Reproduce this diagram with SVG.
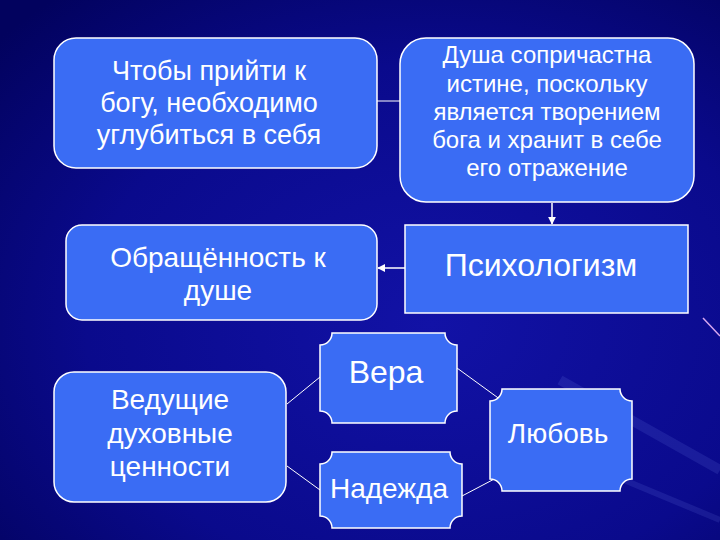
<svg xmlns="http://www.w3.org/2000/svg" width="720" height="540" viewBox="0 0 720 540">
<defs>
<radialGradient id="bg" cx="0.6" cy="0.6" r="0.8">
<stop offset="0" stop-color="#1212a6"/>
<stop offset="0.6" stop-color="#0a0a8c"/>
<stop offset="1" stop-color="#02025e"/>
</radialGradient>
<marker id="ah" viewBox="0 0 10 10" refX="9" refY="5" markerWidth="8" markerHeight="8" markerUnits="userSpaceOnUse" orient="auto">
<path d="M0,0 L10,5 L0,10 z" fill="#ffffff"/>
</marker>
<style>
.box{fill:#3a6cf4;stroke:#ffffff;stroke-width:1.5}
.t{font-family:"Liberation Sans",Arial,sans-serif;fill:#ffffff;text-anchor:middle}
.c{stroke:#ffffff;stroke-width:1;fill:none}
.ca{stroke:#ffffff;stroke-width:1.5;fill:none;marker-end:url(#ah)}
</style>
</defs>
<rect width="720" height="540" fill="url(#bg)"/>
<g opacity="0.12" stroke="#8aa0ff" fill="none">
<path d="M560,380 L720,470" stroke-width="10"/>
<path d="M600,470 L720,520" stroke-width="6"/>
</g>
<path d="M703,318 L720,336" stroke="#d8a8f0" stroke-width="1.5"/>

<g id="connectors">
<line class="c" x1="377" y1="101" x2="400" y2="101"/>
<line class="ca" x1="552" y1="203" x2="552" y2="224"/>
<line class="ca" x1="405" y1="268" x2="378" y2="268"/>
<line class="c" x1="287" y1="404" x2="320" y2="377"/>
<line class="c" x1="287" y1="466" x2="320" y2="490"/>
<line class="c" x1="457" y1="368" x2="501" y2="400"/>
<line class="c" x1="462" y1="496" x2="500" y2="476"/>
</g>

<g id="n1">
<rect class="box" x="54" y="38" width="323" height="130" rx="22"/>
<text class="t" font-size="27" x="209" y="80">Чтобы прийти к</text>
<text class="t" font-size="27" x="209" y="112">богу, необходимо</text>
<text class="t" font-size="27" x="209" y="144">углубиться в себя</text>
</g>

<g id="n2">
<rect class="box" x="400" y="38" width="294" height="164" rx="26"/>
<text class="t" font-size="24" x="547" y="63">Душа сопричастна</text>
<text class="t" font-size="24" x="547" y="92">истине, поскольку</text>
<text class="t" font-size="24" x="547" y="120">является творением</text>
<text class="t" font-size="24" x="547" y="148">бога и хранит в себе</text>
<text class="t" font-size="24" x="547" y="176">его отражение</text>
</g>

<g id="n3">
<rect class="box" x="66" y="225" width="311" height="95" rx="16"/>
<text class="t" font-size="28" x="218" y="267">Обращённость к</text>
<text class="t" font-size="28" x="218" y="300">душе</text>
</g>

<g id="n4">
<rect class="box" x="405" y="225" width="283" height="88"/>
<text class="t" font-size="32" x="541" y="276">Психологизм</text>
</g>

<g id="n5">
<rect class="box" x="54" y="372" width="232" height="130" rx="20"/>
<text class="t" font-size="28" x="170" y="409">Ведущие</text>
<text class="t" font-size="28" x="170" y="443">духовные</text>
<text class="t" font-size="28" x="170" y="476">ценности</text>
</g>

<g id="n6">
<path class="box" d="M332,333 H445 A12,12 0 0 0 457,345 V411 A12,12 0 0 0 445,423 H332 A12,12 0 0 0 320,411 V345 A12,12 0 0 0 332,333 Z"/>
<text class="t" font-size="32" x="386" y="383">Вера</text>
</g>

<g id="n7">
<path class="box" d="M332,452 H450 A12,12 0 0 0 462,464 V516 A12,12 0 0 0 450,528 H332 A12,12 0 0 0 320,516 V464 A12,12 0 0 0 332,452 Z"/>
<text class="t" font-size="28" x="389" y="498">Надежда</text>
</g>

<g id="n8">
<path class="box" d="M502,389 H620 A12,12 0 0 0 632,401 V479 A12,12 0 0 0 620,491 H502 A12,12 0 0 0 490,479 V401 A12,12 0 0 0 502,389 Z"/>
<text class="t" font-size="28" x="558" y="443">Любовь</text>
</g>
</svg>
